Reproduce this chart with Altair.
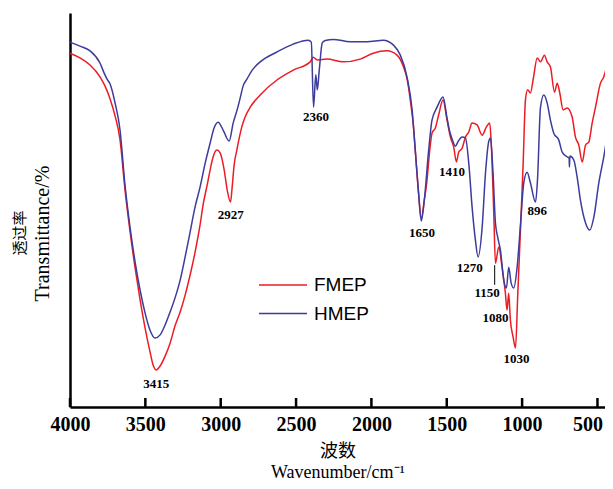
import altair as alt
import pandas as pd

# FMEP (red) spectrum: wavenumber (cm-1) and transmittance (relative %)
fmep_wn = [4000, 3934, 3867, 3801, 3768, 3734, 3701, 3668, 3635, 3601, 3568, 3535, 3502, 3469, 3449, 3429,
           3402, 3369, 3336, 3303, 3269, 3236, 3203, 3170, 3137, 3117, 3090, 3070, 3050, 3026, 3004, 2977,
           2957, 2935, 2924, 2911, 2893, 2860, 2838, 2804, 2738, 2627, 2519, 2406, 2386, 2359, 2295, 2187,
           2074, 1988, 1897, 1830, 1788, 1762, 1742, 1722, 1709, 1689, 1669, 1649, 1631, 1616, 1598, 1576,
           1554, 1525, 1498, 1476, 1454, 1436, 1421, 1398, 1376, 1354, 1332, 1299, 1265, 1237, 1215, 1206,
           1188, 1177, 1155, 1133, 1111, 1100, 1089, 1078, 1060, 1044, 1029, 1011, 993, 978, 963, 945,
           925, 900, 878, 852, 834, 812, 785, 767, 750, 728, 701, 668, 646, 624, 601, 579,
           557, 535, 513, 480, 458, 435, 420, 407]
fmep_t = [89.8, 88.6, 86.8, 83.8, 81.5, 78.2, 73.9, 67.8, 55.1, 44.4, 35.3, 27.2, 20.1, 14.0, 10.7, 9.4,
          10.4, 12.9, 16.2, 20.6, 24.1, 28.4, 33.5, 39.3, 46.2, 51.3, 56.3, 60.2, 63.5, 65.2, 64.5, 60.2,
          55.1, 52.0, 55.8, 61.4, 65.2, 71.1, 73.6, 76.1, 79.2, 83.0, 85.5, 87.6, 88.8, 88.1, 88.3, 87.6,
          88.3, 89.8, 90.4, 89.3, 86.4, 83.0, 77.9, 71.6, 65.2, 55.1, 47.9, 52.5, 57.6, 64.0, 69.5, 70.8,
          74.1, 77.9, 72.8, 68.5, 66.0, 62.2, 64.7, 65.7, 68.5, 69.8, 72.1, 71.6, 69.0, 71.1, 72.1, 67.8,
          49.2, 36.5, 40.6, 35.5, 28.9, 24.6, 28.9, 22.1, 17.8, 15.0, 28.4, 44.9, 61.9, 77.9, 80.5, 79.7,
          83.5, 88.6, 87.6, 89.3, 87.6, 86.3, 79.9, 82.2, 79.7, 75.4, 75.9, 73.6, 68.5, 66.5, 62.2, 66.5,
          67.3, 72.1, 76.1, 82.2, 83.8, 87.3, 91.1, 92.6]

# HMEP (blue) spectrum
hmep_wn = [4000, 3934, 3867, 3801, 3774, 3754, 3734, 3701, 3668, 3635, 3601, 3568, 3535, 3502, 3469, 3435,
           3402, 3369, 3336, 3303, 3269, 3236, 3203, 3170, 3137, 3103, 3070, 3044, 3017, 2984, 2944, 2917,
           2891, 2871, 2851, 2826, 2791, 2738, 2627, 2519, 2419, 2399, 2384, 2369, 2359, 2346, 2326, 2306,
           2253, 2140, 2029, 1921, 1855, 1808, 1764, 1730, 1709, 1687, 1669, 1649, 1620, 1598, 1564, 1525,
           1498, 1483, 1463, 1443, 1423, 1398, 1376, 1354, 1332, 1310, 1292, 1265, 1243, 1222, 1210, 1193,
           1177, 1162, 1144, 1122, 1104, 1089, 1073, 1056, 1033, 1011, 989, 967, 945, 911, 898, 878,
           856, 834, 812, 790, 757, 734, 701, 688, 686, 683, 657, 635, 613, 579, 551, 524,
           491, 458, 425, 407]
hmep_t = [92.6, 91.6, 90.4, 87.3, 84.8, 83.2, 82.0, 77.2, 70.3, 56.3, 45.4, 36.8, 29.7, 23.9, 19.5, 17.5,
          18.3, 20.8, 24.1, 27.7, 32.2, 38.1, 44.4, 50.8, 55.8, 61.9, 67.0, 70.8, 72.3, 70.3, 67.5, 72.1,
          75.4, 78.4, 81.5, 83.2, 85.5, 87.6, 90.1, 92.1, 93.1, 92.6, 76.1, 84.3, 80.5, 85.5, 92.4, 93.0,
          93.3, 92.7, 92.7, 93.1, 91.9, 89.3, 83.8, 75.4, 65.2, 54.3, 47.2, 52.5, 65.2, 72.8, 76.1, 78.7,
          73.3, 70.3, 67.8, 66.2, 67.5, 68.5, 68.3, 61.9, 50.8, 42.4, 38.1, 45.7, 59.4, 67.3, 68.3, 59.4,
          46.7, 43.1, 39.8, 32.2, 30.2, 35.5, 31.5, 30.2, 35.5, 46.2, 56.9, 59.6, 56.9, 52.0, 57.6, 76.1,
          79.2, 77.2, 72.8, 69.5, 67.8, 64.7, 63.5, 63.2, 60.9, 63.7, 62.7, 58.4, 52.5, 46.7, 44.9, 48.2,
          56.9, 63.5, 71.1, 73.6]

# Peak annotations
peak_text = ["3415", "2927", "2360", "1650", "1410", "896", "1270", "1150", "1080", "1030"]
peak_wn = [3427, 2933, 2368, 1664, 1465, 900, 1348, 1232, 1177, 1038]
peak_t = [5.8, 48.7, 73.5, 44.1, 59.7, 49.8, 35.4, 29.0, 22.5, 12.1]

# leader line for the 1150 label
leader_wn = [1182]
leader_t1 = [36.0]
leader_t2 = [31.0]

tick_values = [4000, 3500, 3000, 2500, 2000, 1500, 1000, 500]
series = ["FMEP", "HMEP"]
colors = ["#ec1c24", "#3d3b9c"]

df = pd.concat([
    pd.DataFrame({"wn": fmep_wn, "t": fmep_t, "series": "FMEP"}),
    pd.DataFrame({"wn": hmep_wn, "t": hmep_t, "series": "HMEP"}),
])
peaks = pd.DataFrame({"wn": peak_wn, "t": peak_t, "label": peak_text})
leader = pd.DataFrame({"wn": leader_wn, "t": leader_t1, "t2": leader_t2})
ticks = pd.DataFrame({"wn": tick_values})

serif = "Liberation Serif, Noto Sans CJK SC"
x_scale = alt.Scale(domain=[4000, 450], nice=False, zero=False)
y_scale = alt.Scale(domain=[0, 100], nice=False, zero=False)

x_axis = alt.Axis(
    values=tick_values, format="d", title=["波数", "Wavenumber/cm⁻¹"],
    ticks=False, grid=False, labelFont="Liberation Serif", labelFontWeight="bold",
    labelFontSize=20, labelColor="black", labelPadding=7, labelFlush=False,
    labelOffset={"condition": {"test": "datum.value == 500", "value": -10}, "value": 0},
    titleFont=serif, titleFontSize=18, titleFontWeight="normal", titleLineHeight=21,
    titleColor="black", titlePadding=8)
y_axis = alt.Axis(
    labels=False, ticks=False, grid=False, title="Transmittance/%",
    titleFont="Liberation Serif", titleFontSize=20, titleFontWeight="normal",
    titleColor="black", titlePadding=18, titleY=220)

lines = alt.Chart(df).mark_line(strokeWidth=1.5, interpolate="monotone").encode(
    x=alt.X("wn:Q", scale=x_scale, axis=x_axis),
    y=alt.Y("t:Q", scale=y_scale, axis=y_axis),
    color=alt.Color("series:N", scale=alt.Scale(domain=series, range=colors),
                    legend=alt.Legend(title=None, orient="none", legendX=200, legendY=259,
                                      symbolType="M-2,0H2", symbolSize=576, symbolStrokeWidth=1.5,
                                      symbolFillColor="transparent",
                                      labelFont="Liberation Sans", labelFontSize=19, labelColor="black",
                                      labelOffset=18, rowPadding=5.5)),
)

tick_marks = alt.Chart(ticks).mark_rule(color="black", strokeWidth=2.5).encode(
    x=alt.X("wn:Q", scale=x_scale, axis=x_axis),
    y=alt.value(385), y2=alt.value(394),
)

labels = alt.Chart(peaks).mark_text(font="Liberation Serif", fontWeight="bold", fontSize=13,
                                    baseline="middle", align="center", color="black").encode(
    x=alt.X("wn:Q", scale=x_scale, axis=x_axis),
    y=alt.Y("t:Q", scale=y_scale, axis=y_axis),
    text="label:N",
)

leader_line = alt.Chart(leader).mark_rule(color="black", strokeWidth=1).encode(
    x=alt.X("wn:Q", scale=x_scale, axis=x_axis),
    y=alt.Y("t:Q", scale=y_scale, axis=y_axis),
    y2="t2:Q",
)

chart = alt.layer(lines, tick_marks, labels, leader_line).properties(
    width=535, height=394, autosize="none",
    padding={"left": 62, "top": 5, "right": 0, "bottom": 74},
    title=alt.TitleParams(text="透过率", orient="left", anchor="middle", frame="group",
                          font="Noto Sans CJK SC", fontSize=15, fontWeight="normal",
                          color="black", offset=4, dx=-23),
).configure_view(stroke=None).configure_axis(
    domainColor="black", domainWidth=2.5,
)

chart.save("out.html", embed_options={"renderer": "svg", "actions": False})
